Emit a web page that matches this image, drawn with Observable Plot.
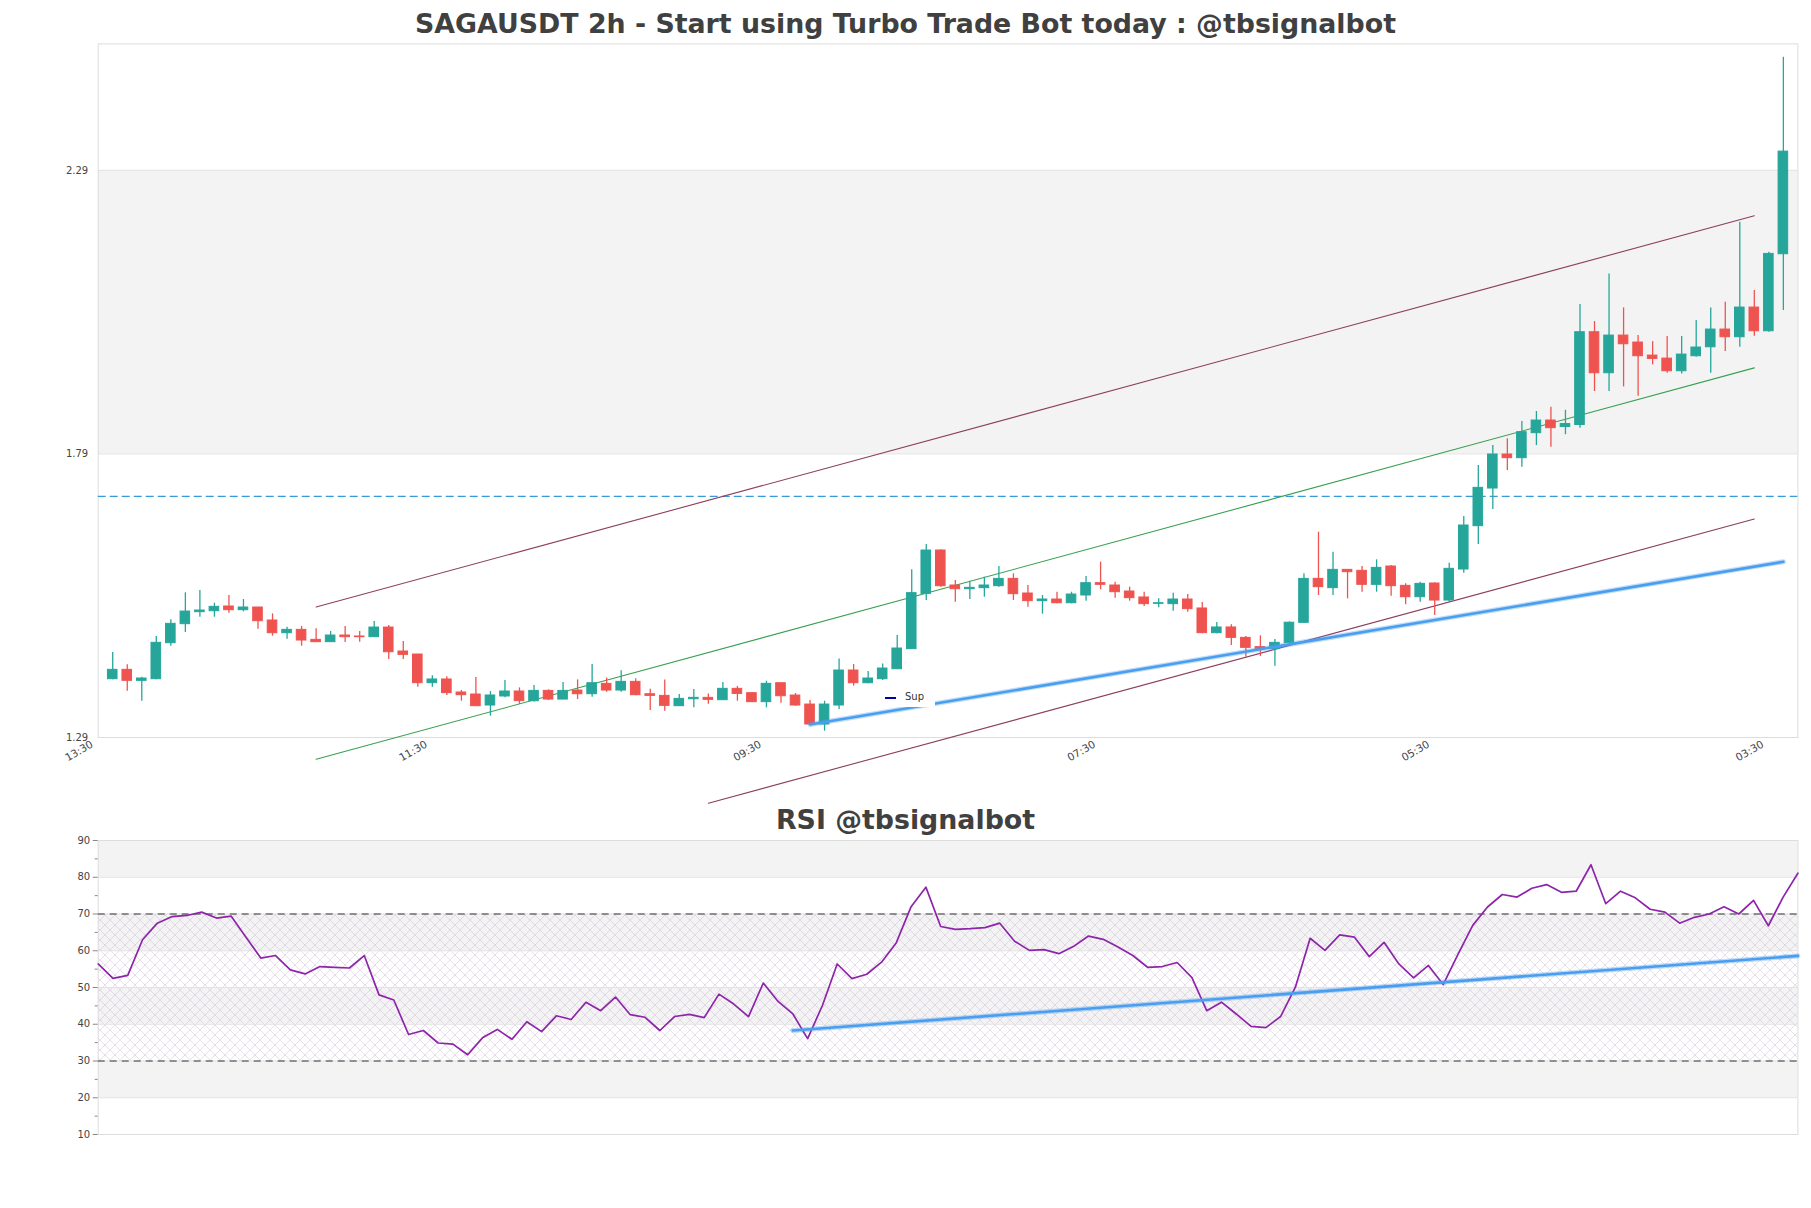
<!DOCTYPE html>
<html><head><meta charset="utf-8">
<script src="https://cdn.jsdelivr.net/npm/d3@7"></script>
<script src="https://cdn.jsdelivr.net/npm/@observablehq/plot@0.6"></script>
<style>
body{margin:0;background:#fff;font-family:"DejaVu Sans",sans-serif;}
#wrap{position:relative;width:1811px;height:1208px;overflow:hidden;background:#fff;}
.title{position:absolute;left:0;width:1811px;text-align:center;font-weight:bold;color:#404040;font-size:26.8px;line-height:30px;font-family:"DejaVu Sans",sans-serif;}
.pl{position:absolute;left:0;}
#legend{position:absolute;left:879px;top:688px;width:56px;height:19px;background:#fff;font-size:10px;color:#333;}
#legend .ln{position:absolute;left:6px;top:9px;width:11px;height:2px;background:#0000aa;}
#legend .tx{position:absolute;left:26px;top:2px;line-height:14px;}
</style></head><body>
<div id="wrap">
<div id="p1" class="pl" style="top:0"></div>
<div id="p2" class="pl" style="top:830px"></div>
<div class="title" style="top:9px">SAGAUSDT 2h - Start using Turbo Trade Bot today : @tbsignalbot</div>
<div class="title" style="top:805px">RSI @tbsignalbot</div>
<div id="legend"><div class="ln"></div><div class="tx">Sup</div></div>
</div>
<script>
// ---- candle data (2h bars, index 1..116) ----
const opens = [1.3928,1.4093,1.3899,1.3928,1.4563,1.4898,1.5110,1.5127,1.5210,1.5145,1.5192,1.4963,1.4739,1.4798,1.4622,1.4581,1.4698,1.4681,1.4669,1.4839,1.4416,1.4363,1.3858,1.3923,1.3693,1.3658,1.3464,1.3623,1.3711,1.3540,1.3722,1.3569,1.3728,1.3663,1.3846,1.3728,1.3881,1.3663,1.3634,1.3452,1.3575,1.3599,1.3558,1.3758,1.3681,1.3523,1.3857,1.3640,1.3481,1.3129,1.3464,1.4081,1.3857,1.3928,1.4104,1.4458,1.5433,1.6197,1.5580,1.5515,1.5533,1.5568,1.5697,1.5439,1.5304,1.5333,1.5268,1.5404,1.5621,1.5580,1.5474,1.5369,1.5257,1.5251,1.5333,1.5175,1.4740,1.4840,1.4657,1.4493,1.4458,1.4563,1.4922,1.5697,1.5533,1.5856,1.5839,1.5592,1.5915,1.5574,1.5374,1.5615,1.5315,1.5862,1.6626,1.7290,1.7890,1.7825,1.8266,1.8489,1.8374,1.8410,2.0046,1.9323,1.9987,1.9864,1.9634,1.9581,1.9358,1.9623,1.9781,2.0093,1.9958,2.0481,2.0063,2.1421];
const highs = [1.4399,1.4181,1.3964,1.4681,1.4975,1.5451,1.5492,1.5268,1.5404,1.5333,1.5192,1.5080,1.4845,1.4857,1.4816,1.4769,1.4857,1.4769,1.4945,1.4875,1.4593,1.4363,1.3987,1.3970,1.3729,1.3958,1.3711,1.3905,1.3775,1.3816,1.3740,1.3869,1.3916,1.4187,1.3951,1.4075,1.3934,1.3752,1.3916,1.3658,1.3746,1.3669,1.3869,1.3799,1.3693,1.3893,1.3857,1.3675,1.3552,1.3540,1.4286,1.4187,1.4063,1.4198,1.4698,1.5856,1.6303,1.6210,1.5668,1.5656,1.5727,1.5915,1.5786,1.5580,1.5404,1.5462,1.5462,1.5739,1.5991,1.5639,1.5551,1.5462,1.5345,1.5445,1.5421,1.5280,1.4928,1.4887,1.4681,1.4693,1.4628,1.4939,1.5786,1.6520,1.6168,1.5856,1.5915,1.6033,1.5933,1.5609,1.5639,1.5627,1.5974,1.6796,1.7696,1.8048,1.8166,1.8471,1.8648,1.8724,1.8670,2.0534,2.0234,2.1074,2.0475,1.9987,1.9881,1.9969,1.9969,2.0251,2.0475,2.0575,2.1985,2.0780,2.1456,2.4894];
const lows = [1.3917,1.3717,1.3541,1.3920,1.4510,1.4751,1.5021,1.5021,1.5092,1.5116,1.4810,1.4687,1.4634,1.4510,1.4581,1.4575,1.4575,1.4581,1.4669,1.4275,1.4275,1.3787,1.3787,1.3641,1.3541,1.3446,1.3276,1.3599,1.3482,1.3528,1.3552,1.3564,1.3569,1.3611,1.3699,1.3699,1.3634,1.3376,1.3364,1.3452,1.3423,1.3487,1.3552,1.3540,1.3517,1.3423,1.3505,1.3452,1.3117,1.3011,1.3393,1.3805,1.3846,1.3905,1.4098,1.4458,1.5316,1.5550,1.5286,1.5333,1.5374,1.5551,1.5316,1.5198,1.5075,1.5257,1.5257,1.5304,1.5504,1.5357,1.5304,1.5210,1.5186,1.5128,1.5110,1.4728,1.4728,1.4522,1.4316,1.4328,1.4155,1.4563,1.4910,1.5404,1.5404,1.5345,1.5462,1.5462,1.5392,1.5239,1.5286,1.5051,1.5286,1.5797,1.6303,1.6920,1.7608,1.7666,1.8048,1.8019,1.8239,1.8355,1.9000,1.9000,1.9082,1.8918,1.9470,1.9323,1.9311,1.9605,1.9323,1.9705,1.9781,1.9975,2.0046,2.0428];
const closes = [1.4093,1.3899,1.3940,1.4569,1.4904,1.5121,1.5139,1.5204,1.5145,1.5192,1.4951,1.4739,1.4798,1.4610,1.4581,1.4698,1.4669,1.4669,1.4839,1.4404,1.4357,1.3858,1.3923,1.3682,1.3646,1.3452,1.3641,1.3711,1.3541,1.3722,1.3569,1.3722,1.3663,1.3857,1.3728,1.3881,1.3646,1.3634,1.3458,1.3581,1.3599,1.3564,1.3758,1.3669,1.3523,1.3846,1.3628,1.3464,1.3129,1.3481,1.4081,1.3857,1.3940,1.4116,1.4469,1.5445,1.6197,1.5568,1.5515,1.5539,1.5580,1.5697,1.5427,1.5304,1.5333,1.5268,1.5421,1.5621,1.5592,1.5462,1.5357,1.5251,1.5268,1.5333,1.5163,1.4740,1.4840,1.4657,1.4481,1.4458,1.4569,1.4924,1.5697,1.5551,1.5856,1.5815,1.5592,1.5891,1.5568,1.5374,1.5609,1.5315,1.5874,1.6638,1.7302,1.7890,1.7825,1.8283,1.8489,1.8354,1.8427,2.0046,1.9323,1.9987,1.9834,1.9623,1.9576,1.9358,1.9652,1.9776,2.0093,1.9958,2.0481,2.0063,2.1427,2.3231];

// ---- RSI values (one per bar) ----
const rsi = [56.4,52.5,53.3,63.0,67.5,69.3,69.6,70.5,68.9,69.4,63.7,58.0,58.7,54.8,53.7,55.7,55.5,55.3,58.7,48.0,46.6,37.2,38.3,34.9,34.6,31.7,36.3,38.6,35.9,40.7,38.0,42.3,41.3,46.0,43.7,47.4,42.6,41.9,38.3,42.1,42.7,41.8,48.2,45.5,42.1,51.2,46.2,42.8,36.1,45.1,56.4,52.4,53.6,56.9,62.2,72.0,77.3,66.6,65.8,66.0,66.3,67.5,62.6,60.1,60.3,59.2,61.2,64.0,63.1,61.0,58.7,55.5,55.7,56.8,52.7,43.7,46.0,42.8,39.4,39.1,42.1,50.1,63.4,60.1,64.3,63.7,58.4,62.3,56.4,52.6,56.0,50.8,59.0,66.9,71.9,75.3,74.6,77.0,78.0,75.9,76.2,83.4,72.8,76.2,74.4,71.3,70.5,67.5,69.1,70.0,72.0,70.0,73.7,66.8,74.6,81.1];

// ---- x tick labels ----
const tickIdx = [0,23,46,69,92,115];
const tickLabels = ["13:30","11:30","09:30","07:30","05:30","03:30"];
const priceTicks = [1.29,1.79,2.29];
const rsiTicks = [10,20,30,40,50,60,70,80,90];
const rsiMinor = [15,25,35,45,55,65,75,85];

// ---- drawn lines ----
const upperChanX = [15,114], upperChanY = [1.520,2.210];
const midChanX = [15,114], midChanY = [1.2516,1.9418];
const lowerChanX = [42,114], lowerChanY = [1.1742,1.6752];
const supX = [49,116], supY = [1.3129,1.5999];
const resLevel = 1.715;
const rsiTrendX = [47,115], rsiTrendY = [38.3,58.6];

const UP = "#26a69a", DOWN = "#ef5350";
const candles = opens.map((o,k)=>({i:k+1,o,h:highs[k],l:lows[k],c:closes[k]}));
const ups = candles.filter(d=>d.c>=d.o), downs = candles.filter(d=>d.c<d.o);
const pts = (xs,ys)=>xs.map((x,k)=>({x,y:ys[k]}));

const W = 1811, L = 97.7, R = 13.6;
const topH = 830, frameTop = 43.4, frameBot = 737;

const p1 = Plot.plot({
  width: W, height: topH,
  marginLeft: L, marginRight: R, marginTop: frameTop, marginBottom: topH-frameBot,
  style: {fontFamily: "DejaVu Sans, sans-serif", fontSize: "10px", color: "#444", overflow: "visible", background: "transparent"},
  x: {domain: [0,117]},
  y: {domain: [1.29, 2.513]},
  marks: [
    Plot.rect([{y1:1.79,y2:2.29}], {y1:"y1", y2:"y2", fill:"#f3f3f3"}),
    Plot.ruleY([1.79,2.29], {stroke:"#e2e2e2", strokeWidth:1}),
    Plot.frame({stroke:"#dddddd"}),
    Plot.ruleY([resLevel], {stroke:"#3a9ad9", strokeWidth:1.3, strokeDasharray:"8,4"}),
    Plot.line(pts(upperChanX,upperChanY), {x:"x", y:"y", stroke:"#8c3f5f", strokeWidth:1.1}),
    Plot.line(pts(midChanX,midChanY), {x:"x", y:"y", stroke:"#3aa050", strokeWidth:1.1}),
    Plot.line(pts(lowerChanX,lowerChanY), {x:"x", y:"y", stroke:"#8c3f5f", strokeWidth:1.1}),
    Plot.ruleX(ups, {x:"i", y1:"l", y2:"h", stroke:UP, strokeWidth:1.3}),
    Plot.ruleX(downs, {x:"i", y1:"l", y2:"h", stroke:DOWN, strokeWidth:1.3}),
    Plot.rect(ups, {x1:d=>d.i-0.33, x2:d=>d.i+0.33, y1:"o", y2:"c", fill:UP, stroke:UP, strokeWidth:1}),
    Plot.rect(downs, {x1:d=>d.i-0.33, x2:d=>d.i+0.33, y1:"c", y2:"o", fill:DOWN, stroke:DOWN, strokeWidth:1}),
    Plot.line(pts(supX,supY), {x:"x", y:"y", stroke:"#4a9ef0", strokeWidth:5, strokeOpacity:0.35}),
    Plot.line(pts(supX,supY), {x:"x", y:"y", stroke:"#4a9ef0", strokeWidth:2.6}),
    Plot.axisY({ticks: priceTicks, tickFormat: d=>d.toFixed(2), tickSize: 0, tickPadding: 10, fontSize: 10}),
    Plot.axisX({ticks: tickIdx, tickFormat: d=>tickLabels[tickIdx.indexOf(d)], tickRotate: -30, tickSize: 0, tickPadding: 6, dx: -6, fontSize: 10.5})
  ]
});
document.getElementById("p1").appendChild(p1);

const rH = 324, rTop = 10, rFrameH = 294;
const p2 = Plot.plot({
  width: W, height: rH,
  marginLeft: L, marginRight: R, marginTop: rTop, marginBottom: rH-rTop-rFrameH,
  style: {fontFamily: "DejaVu Sans, sans-serif", fontSize: "10px", color: "#444", overflow: "visible", background: "transparent"},
  x: {domain: [0, rsi.length-1], axis: null},
  y: {domain: [10,90]},
  marks: [
    Plot.rect([{a:80,b:90},{a:60,b:70},{a:40,b:50},{a:20,b:30}], {y1:"a", y2:"b", fill:"#f3f3f3"}),
    Plot.rect([{a:30,b:70}], {y1:"a", y2:"b", fill:"url(#rsihatch)"}),
    Plot.ruleY([20,30,40,50,60,70,80], {stroke:"#e2e2e2"}),
    Plot.frame({stroke:"#dddddd"}),
    Plot.ruleY([30,70], {stroke:"#333", strokeWidth:1.2, strokeDasharray:"7,5"}),
    Plot.line(rsi, {x:(d,k)=>k, y:d=>d, stroke:"#8e24aa", strokeWidth:1.7}),
    Plot.line(pts(rsiTrendX,rsiTrendY), {x:"x", y:"y", stroke:"#4a9ef0", strokeWidth:5, strokeOpacity:0.35}),
    Plot.line(pts(rsiTrendX,rsiTrendY), {x:"x", y:"y", stroke:"#4a9ef0", strokeWidth:2.6}),
    Plot.axisY({ticks: rsiTicks, tickSize: 5, tickPadding: 3, fontSize: 10, stroke:"#888"}),
    Plot.axisY({ticks: rsiMinor, tickSize: 3, text: null, stroke:"#888"})
  ]
});
const ns = "http://www.w3.org/2000/svg";
const defs = document.createElementNS(ns, "defs");
defs.innerHTML = '<pattern id="rsihatch" patternUnits="userSpaceOnUse" width="10" height="10">' +
  '<path d="M0,0 L10,10 M10,0 L0,10" stroke="#c7b3d3" stroke-width="0.6" stroke-opacity="0.7" fill="none"/>' +
  '<circle cx="5" cy="5" r="0.5" fill="#d8c8e0"/></pattern>';
p2.prepend(defs);
document.getElementById("p2").appendChild(p2);
</script>
</body></html>
